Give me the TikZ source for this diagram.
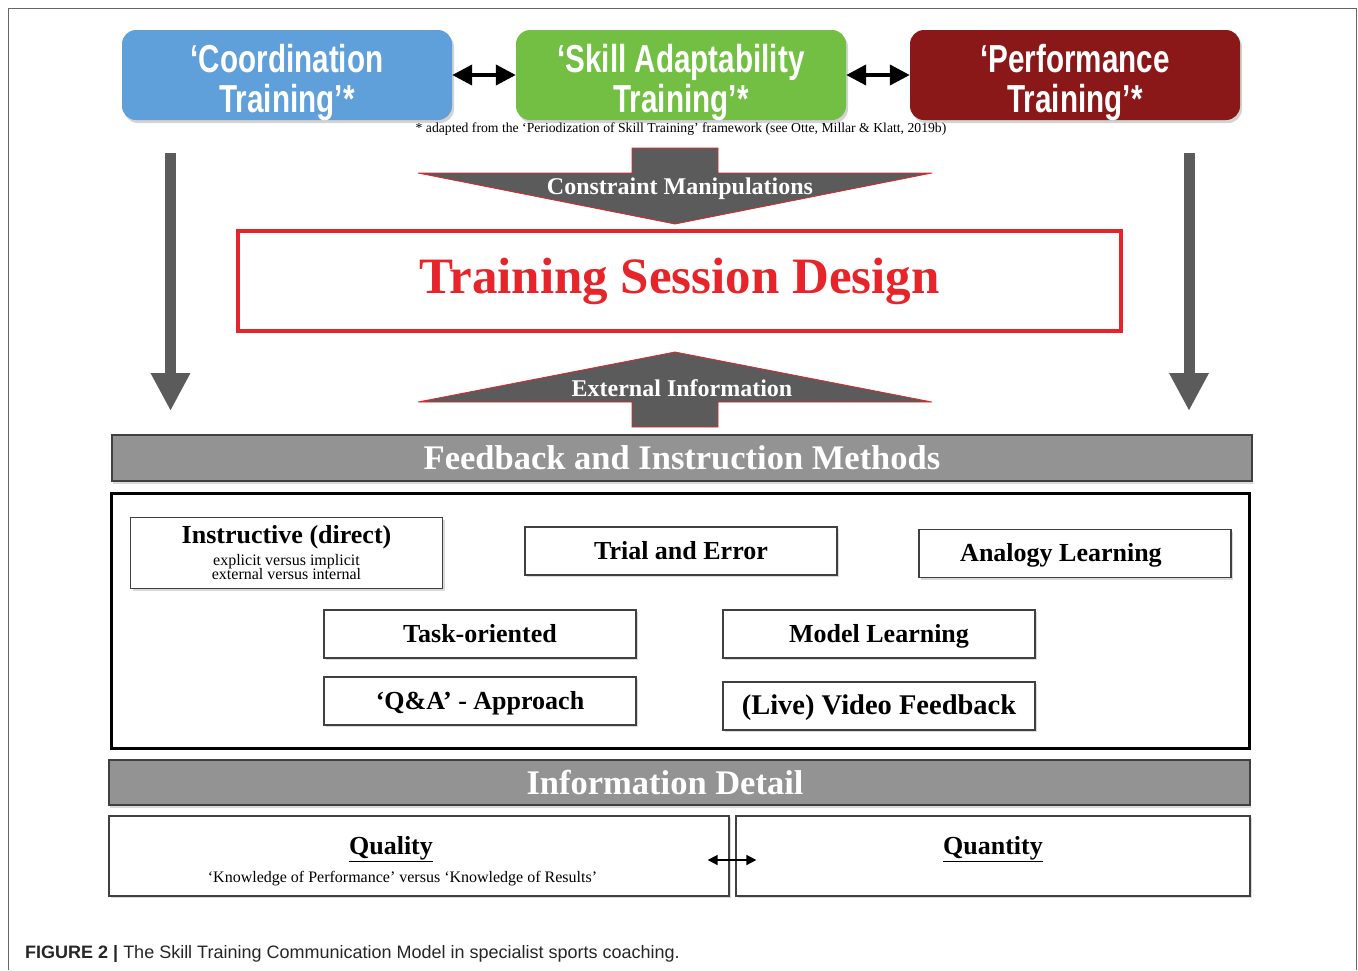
\documentclass[tikz,border=0pt]{standalone}
\usepackage{fontspec}
\setmainfont{Liberation Serif}
\setsansfont{Liberation Sans}
\newfontfamily\condfont[FakeStretch=0.76]{Liberation Sans}
\usetikzlibrary{arrows.meta,shadows}
\definecolor{coordblue}{HTML}{5FA0DA}
\definecolor{skillgreen}{HTML}{72BF44}
\definecolor{perfred}{HTML}{8A1818}
\definecolor{arrowgray}{HTML}{5B5B5B}
\definecolor{bargray}{HTML}{939393}
\definecolor{designred}{HTML}{E62429}
\newcommand{\subfont}{\normalfont\fontsize{16}{14}\selectfont}

\begin{document}
\begin{tikzpicture}[x=1pt, y=-1pt,
    phase/.style={rectangle, rounded corners=14pt, minimum width=330pt, minimum height=90pt, drop shadow={opacity=0.35, shadow xshift=2pt, shadow yshift=-3pt}},
    phasetext/.style={text=white, align=center, font=\condfont\bfseries\fontsize{39}{40}\selectfont},
    bar/.style={rectangle, draw=black!75, line width=1.5pt, fill=bargray, text=white, font=\bfseries\fontsize{34.5}{36}\selectfont, drop shadow={opacity=0.3, shadow xshift=1pt, shadow yshift=-3pt}},
    method/.style={rectangle, draw=black!75, line width=1.2pt, fill=white, minimum width=312pt, minimum height=48pt, align=center, font=\bfseries\fontsize{26}{28}\selectfont, drop shadow={opacity=0.3, shadow xshift=2pt, shadow yshift=-2pt}},
    oneline/.style={method, text height=22pt, text depth=6pt},
    detail/.style={rectangle, draw=black!75, line width=1.2pt, fill=white, minimum height=80pt, drop shadow={opacity=0.3, shadow xshift=2pt, shadow yshift=-2pt}},
    detailtext/.style={font=\bfseries\fontsize{26}{28}\selectfont},
    twoway/.style={arrows={Triangle[length=20pt,width=20pt]-Triangle[length=20pt,width=20pt]}, line width=4pt},
    smallway/.style={arrows={Triangle[length=10pt,width=10pt]-Triangle[length=10pt,width=10pt]}, line width=1.5pt},
    sidearrow/.style={arrows={-Triangle[length=38pt,width=37pt]}, line width=11pt, draw=arrowgray},
    bigarrow/.style={fill=arrowgray, draw=designred, line width=0.8pt},
    arrowtext/.style={text=white, font=\bfseries\fontsize{24}{26}\selectfont}
]
    \useasboundingbox (0,0) rectangle (1358,970);
    \draw[black!60, line width=1pt] (8,970) -- (8,8) -- (1356,8) -- (1356,970);

    \node[phase, fill=coordblue] (coord) at (287,75) {};
    \node[phase, fill=skillgreen] (skill) at (681,75) {};
    \node[phase, fill=perfred] (perf) at (1075,75) {};
    \node[phasetext] (coordtext) at (287,82) {‘Coordination\\Training’*};
    \node[phasetext] (skilltext) at (681,82) {‘Skill Adaptability\\Training’*};
    \node[phasetext] (perftext) at (1075,82) {‘Performance\\Training’*};
    \node[font=\fontsize{13.7}{15}\selectfont] (source) at (681,129) {* adapted from the ‘Periodization of Skill Training’ framework (see Otte, Millar \& Klatt, 2019b)};

    \draw[twoway] (coord) -- (skill);
    \draw[twoway] (skill) -- (perf);

    \coordinate (lefttop) at (170.5,153);
    \coordinate (leftend) at (170.5,411);
    \coordinate (righttop) at (1189,153);
    \coordinate (rightend) at (1189,411);
    \draw[sidearrow] (lefttop) -- (leftend);
    \draw[sidearrow] (righttop) -- (rightend);

    \draw[bigarrow] (632,148) -- (718,148) -- (718,173) -- (932,173) -- (675,224) -- (418,173) -- (632,173) -- cycle;
    \node[arrowtext] (constraint) at (680,189) {Constraint Manipulations};

    \node[rectangle, draw=designred, line width=4.5pt, minimum width=883pt, minimum height=100pt, text=designred, font=\bfseries\fontsize{51}{54}\selectfont] (design) at (679.5,281) {Training Session Design};

    \draw[bigarrow] (675,352) -- (932,402) -- (718,402) -- (718,427) -- (632,427) -- (632,402) -- (418,402) -- cycle;
    \node[arrowtext] (external) at (682,388) {External Information};

    \node[bar, minimum width=1140pt, minimum height=46pt] (feedback) at (682,458) {Feedback and Instruction Methods};

    \node[rectangle, draw=black, line width=3pt, minimum width=1138pt, minimum height=255pt] (methods) at (680,620.5) {};

    \node[method, minimum height=71pt] (instructive) at (286.5,553) {Instructive (direct)\\[-6pt]{\subfont explicit versus implicit}\\[-14pt]{\subfont external versus internal}};
    \node[oneline] (trial) at (681,551) {Trial and Error};
    \node[oneline] (analogy) at (1075,553.5) {\hspace*{-28pt}Analogy Learning};
    \node[oneline] (task) at (480,634) {Task-oriented};
    \node[oneline] (model) at (879,634) {Model Learning};
    \node[oneline] (qa) at (480,701) {‘Q\&A’ - Approach};
    \node[oneline, font=\bfseries\fontsize{28.5}{30}\selectfont] (video) at (879,706) {(Live) Video Feedback};

    \node[bar, minimum width=1141pt, minimum height=45pt] (infodetail) at (679.5,782.5) {\hspace*{-29pt}Information Detail};

    \node[detail, minimum width=620pt] (quality) at (419,856) {};
    \node[detail, minimum width=514pt] (quantity) at (993,856) {};
    \node[detailtext] (qualitytext) at (391,849) {\underline{Quality}};
    \node[font=\subfont] (kptext) at (402.5,879) {‘Knowledge of Performance’ versus ‘Knowledge of Results’};
    \node[detailtext] (quantitytext) at (993,849) {\underline{Quantity}};
    \draw[smallway, shorten <=-22pt, shorten >=-21pt] ([yshift=-4pt]quality.east) -- ([yshift=-4pt]quantity.west);

    \node[anchor=base west, inner sep=0pt, text=black!85, font=\sffamily\fontsize{18}{20}\selectfont] (caption) at (25,958) {\textbf{FIGURE 2 |} The Skill Training Communication Model in specialist sports coaching.};
\end{tikzpicture}
\end{document}
